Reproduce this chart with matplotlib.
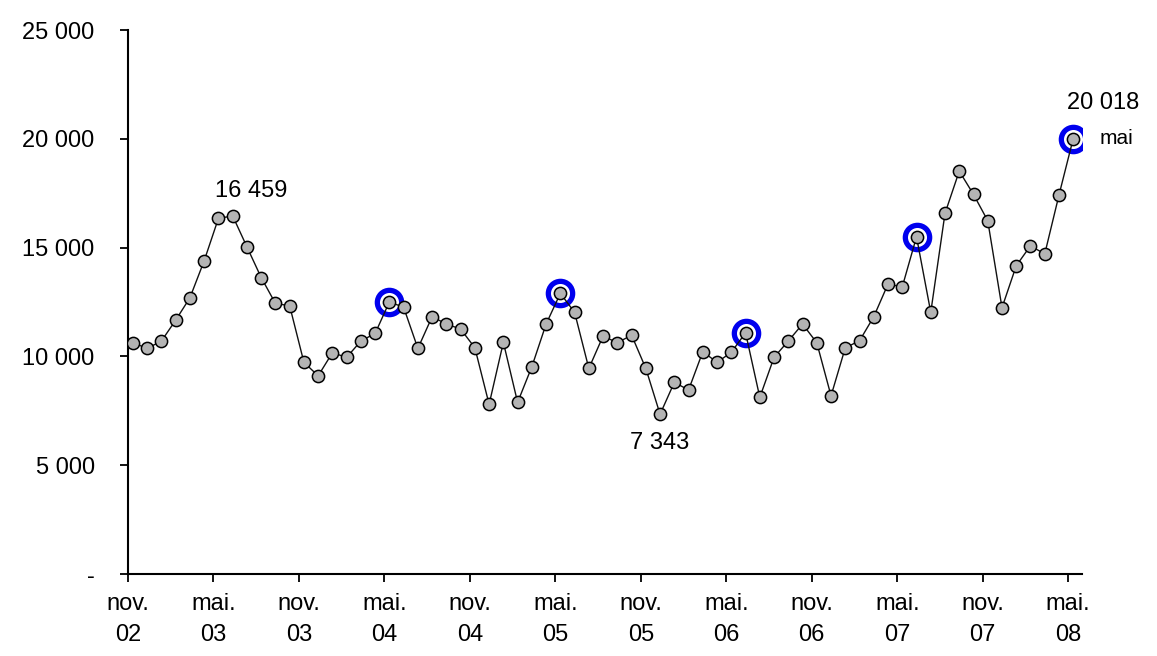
import numpy as np
import matplotlib.pyplot as plt

plt.rcParams['font.family'] = ['Liberation Sans', 'DejaVu Sans']

# ----------------- DATA -----------------
# monthly values, nov. 02 -> mai 08
values = [10630, 10370, 10710, 11670, 12700, 14400, 16350, 16459, 15040, 13630,
          12440, 12330, 9730, 9110, 10170, 9960, 10710, 11060, 12510, 12260,
          10370, 11830, 11490, 11260, 10400, 7800, 10650, 7890, 9530, 11490,
          12900, 12030, 9450, 10940, 10630, 10980, 9450, 7343, 8810, 8460,
          10220, 9730, 10190, 11090, 8120, 9960, 10710, 11490, 10630, 8190,
          10400, 10720, 11830, 13330, 13200, 15500, 12030, 16580, 18520, 17450,
          16240, 12240, 14170, 15090, 14710, 17420, 20018]
highlight_idx = [18, 30, 43, 55, 66]

tick_labels = ["nov.\n02", "mai.\n03", "nov.\n03", "mai.\n04", "nov.\n04", "mai.\n05",
               "nov.\n05", "mai.\n06", "nov.\n06", "mai.\n07", "nov.\n07", "mai.\n08"]
y_ticks = [0, 5000, 10000, 15000, 20000, 25000]
y_labels = ["-", "5 000", "10 000", "15 000", "20 000", "25 000"]

# ----------------- PLOT -----------------
fig = plt.figure(figsize=(11.57, 6.56), dpi=100)
ax = fig.add_axes([0.1106, 0.125, 0.825, 0.829])

x = np.arange(len(values)) + 0.35
ax.plot(x, values, color='#111111', lw=1.0, marker='o', markersize=8.8,
        markerfacecolor='#b4b4b4', markeredgecolor='black', markeredgewidth=1.1, zorder=3)

hx = [x[i] for i in highlight_idx]
hy = [values[i] for i in highlight_idx]
ax.plot(hx, hy, ls='none', marker='o', markersize=17.5, markerfacecolor='none',
        markeredgecolor='#0000ee', markeredgewidth=3.8, zorder=2)

# annotations
fs = 17
ax.text(x[7] + 1.3, values[7] + 650, "16 459", ha='center', va='bottom', fontsize=fs)
ax.text(x[37], values[37] - 800, "7 343", ha='center', va='top', fontsize=fs)
ax.text(x[66] + 2.1, values[66] + 1150, "20 018", ha='center', va='bottom', fontsize=fs)
ax.text(x[66] + 3.0, values[66], "mai", ha='center', va='center', fontsize=fs - 2)

ax.set_xlim(0, 67)
ax.set_ylim(0, 25000)
ax.set_xticks(np.arange(0, 67, 6))
ax.set_xticklabels(tick_labels, fontsize=fs, linespacing=1.5)
ax.set_yticks(y_ticks)
ax.set_yticklabels(y_labels, fontsize=fs)

for side in ['top', 'right']:
    ax.spines[side].set_visible(False)
ax.spines['left'].set_linewidth(1.5)
ax.spines['bottom'].set_linewidth(1.5)
ax.tick_params(axis='both', direction='out', length=6, width=1.3, colors='black')
ax.tick_params(axis='y', pad=18)
ax.tick_params(axis='x', pad=8)

fig.savefig("out.png", dpi=100)
